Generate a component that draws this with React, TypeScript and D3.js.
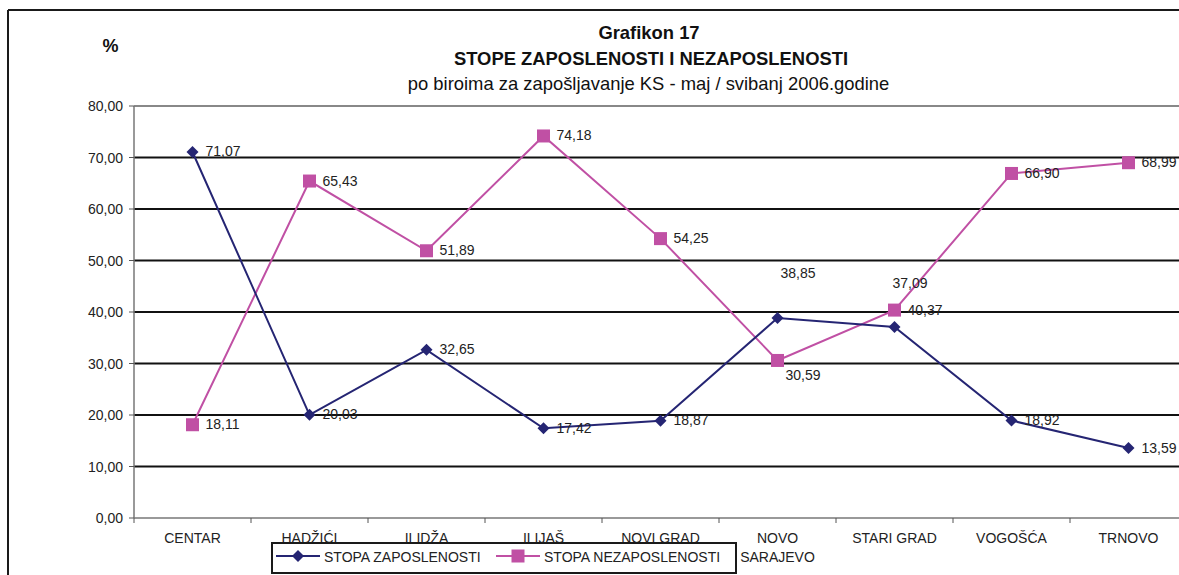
import React from "react";
import * as d3 from "d3";

const categories = ["CENTAR", "HADŽIĆI", "ILIDŽA", "ILIJAŠ", "NOVI GRAD", "NOVO SARAJEVO", "STARI GRAD", "VOGOŠĆA", "TRNOVO"];
const zaposlenost = [71.07, 20.03, 32.65, 17.42, 18.87, 38.85, 37.09, 18.92, 13.59];
const nezaposlenost = [18.11, 65.43, 51.89, 74.18, 54.25, 30.59, 40.37, 66.9, 68.99];
const yTicks = [0, 10, 20, 30, 40, 50, 60, 70, 80];
const seriesNames = ["STOPA ZAPOSLENOSTI", "STOPA NEZAPOSLENOSTI"];

const W = 1179, H = 575;
const left = 134, right = 1187, top = 106, bottom = 518;
const NAVY = "#252573";
const PINK = "#c050a4";
const FONT = "Arial, 'Liberation Sans', sans-serif";

const fmt = (v: number) => v.toFixed(2).replace(".", ",");

export default function App() {
  const x = d3.scaleBand<string>().domain(categories).range([left, right]);
  const y = d3.scaleLinear().domain([0, 80]).range([bottom, top]);
  const cx = (i: number) => (x(categories[i]) as number) + x.bandwidth() / 2;
  const line = d3.line<number>().x((_, i) => cx(i)).y((d) => y(d));

  // label offsets (dx, baseline dy) for moved labels
  const def: [number, number] = [13, 4.5];
  const zapOff: Record<number, [number, number]> = { 5: [3, -40], 6: [-2, -39] };
  const nezOff: Record<number, [number, number]> = { 5: [8, 19.5] };

  return (
    <svg width={W} height={H} style={{ position: "absolute", left: 0, top: 0, background: "#fff" }} fontFamily={FONT}>
      <rect x={0} y={0} width={W} height={H} fill="#fff" />
      {/* outer frame */}
      <line x1={8} y1={10} x2={W} y2={10} stroke="#1a1a1a" strokeWidth={2} />
      <line x1={8} y1={10} x2={8} y2={H} stroke="#1a1a1a" strokeWidth={2} />

      {/* titles */}
      <text x={649} y={39} textAnchor="middle" fontSize={18.4} fontWeight="bold" fill="#111">Grafikon 17</text>
      <text x={651} y={64.5} textAnchor="middle" fontSize={18.4} fontWeight="bold" fill="#111">STOPE ZAPOSLENOSTI I NEZAPOSLENOSTI</text>
      <text x={648.5} y={89.5} textAnchor="middle" fontSize={18.4} fill="#111">po biroima za zapošljavanje KS - maj / svibanj 2006.godine</text>
      <text x={110.5} y={52} textAnchor="middle" fontSize={18} fontWeight="bold" fill="#111">%</text>

      {/* gridlines */}
      {yTicks.filter((t) => t > 0 && t < 80).map((t) => (
        <line key={t} x1={left} x2={right} y1={y(t)} y2={y(t)} stroke="#111" strokeWidth={2} />
      ))}
      <line x1={left} x2={right} y1={y(80)} y2={y(80)} stroke="#888" strokeWidth={2} />

      {/* y axis */}
      <line x1={left} x2={left} y1={top} y2={bottom} stroke="#777" strokeWidth={1.5} />
      {yTicks.map((t) => (
        <g key={t}>
          <line x1={left - 5} x2={left} y1={y(t)} y2={y(t)} stroke="#555" strokeWidth={1} />
          <text x={left - 11} y={y(t) + 5} textAnchor="end" fontSize={14} fill="#222">{fmt(t)}</text>
        </g>
      ))}

      {/* x axis */}
      <line x1={left} x2={right} y1={bottom} y2={bottom} stroke="#777" strokeWidth={1.5} />
      {categories.map((c, i) => (
        <line key={"t" + i} x1={x(c) as number} x2={x(c) as number} y1={bottom} y2={bottom + 5} stroke="#555" strokeWidth={1} />
      ))}
      {categories.map((c, i) => {
        const parts = c === "NOVO SARAJEVO" ? ["NOVO", "SARAJEVO"] : [c];
        return (
          <text key={"l" + i} x={cx(i)} y={543} textAnchor="middle" fontSize={14} fill="#222">
            {parts.map((p, k) => (
              <tspan key={k} x={cx(i)} dy={k === 0 ? 0 : 19}>{p}</tspan>
            ))}
          </text>
        );
      })}

      {/* lines */}
      <path d={line(nezaposlenost) as string} fill="none" stroke={PINK} strokeWidth={2} />
      <path d={line(zaposlenost) as string} fill="none" stroke={NAVY} strokeWidth={2} />

      {/* markers */}
      {nezaposlenost.map((v, i) => (
        <rect key={"s" + i} x={cx(i) - 6.5} y={y(v) - 6.5} width={13} height={13} fill={PINK} />
      ))}
      {zaposlenost.map((v, i) => (
        <path key={"d" + i} d={`M${cx(i)},${y(v) - 6}L${cx(i) + 6},${y(v)}L${cx(i)},${y(v) + 6}L${cx(i) - 6},${y(v)}Z`} fill={NAVY} />
      ))}

      {/* data labels */}
      {zaposlenost.map((v, i) => {
        const o = zapOff[i] || def;
        return (
          <text key={"zl" + i} x={cx(i) + o[0]} y={y(v) + o[1]} fontSize={14} fill="#222">{fmt(v)}</text>
        );
      })}
      {nezaposlenost.map((v, i) => {
        const o = nezOff[i] || def;
        return (
          <text key={"nl" + i} x={cx(i) + o[0]} y={y(v) + o[1]} fontSize={14} fill="#222">{fmt(v)}</text>
        );
      })}

      {/* legend */}
      <rect x={272} y={543} width={464} height={30} fill="#fff" stroke="#1a1a1a" strokeWidth={2} />
      <line x1={276} x2={320} y1={556} y2={556} stroke={NAVY} strokeWidth={2} />
      <path d="M298,550L304,556L298,562L292,556Z" fill={NAVY} />
      <text x={324} y={561.5} fontSize={14} fill="#222">{seriesNames[0]}</text>
      <line x1={496} x2={540} y1={556} y2={556} stroke={PINK} strokeWidth={2} />
      <rect x={511.5} y={549.5} width={13} height={13} fill={PINK} />
      <text x={544} y={561.5} fontSize={14} fill="#222">{seriesNames[1]}</text>
    </svg>
  );
}
